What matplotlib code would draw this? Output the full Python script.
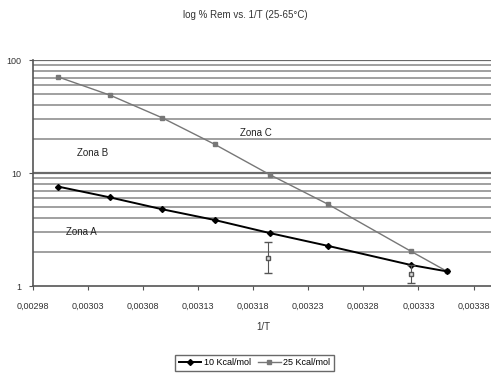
import matplotlib
matplotlib.use('Agg')
import matplotlib.pyplot as plt
from matplotlib.ticker import FixedLocator, NullFormatter
import numpy as np

plt.rcParams['font.family'] = ['Liberation Sans', 'DejaVu Sans']

# datos
inv_t = [0.003003, 0.003050, 0.003097, 0.003145, 0.003195, 0.003248, 0.003323, 0.003356]
rem_10 = [7.6, 6.1, 4.8, 3.85, 2.95, 2.27, 1.54, 1.35]
rem_25 = [71, 49, 31, 18, 9.7, 5.3, 2.04, 1.35]

# puntos experimentales con barras de error
err_x = [0.003193, 0.003323]
err_y = [1.79, 1.28]
err_lo = [0.49, 0.22]
err_hi = [0.68, 0.25]

xticks = [0.00298, 0.00303, 0.00308, 0.00313, 0.00318, 0.00323, 0.00328, 0.00333, 0.00338]
zonas = [('Zona A', 0.003010, 2.85), ('Zona B', 0.003020, 14.2), ('Zona C', 0.003168, 21.5)]

fig = plt.figure(figsize=(4.91, 3.76), dpi=100)
ax = fig.add_axes([0.067, 0.239, 0.94, 0.601])
ax.set_yscale('log')
ax.set_ylim(1, 100)
ax.set_xlim(0.00298, 0.003399)

# lineas de division horizontales
for v in list(range(2, 10)) + list(range(20, 100, 10)):
    ax.axhline(v, color='#a0a0a0', lw=1.4, zorder=1)
for v in [10, 100]:
    ax.axhline(v, color='#6a6a6a', lw=1.6, zorder=1)

ax.plot(inv_t, rem_10, color='black', lw=1.4, marker='D', ms=3, label='10 Kcal/mol', zorder=4)
ax.plot(inv_t, rem_25, color='#777777', lw=1.0, marker='s', ms=2.5, label='25 Kcal/mol', zorder=3)
ax.errorbar(err_x, err_y, yerr=[err_lo, err_hi], fmt='s', color='#555555', mfc='#dddddd',
            ms=3, capsize=3, lw=0.8, zorder=5)

for txt, x, y in zonas:
    ax.text(x, y, txt, fontsize=7, color='#222222')

ax.xaxis.set_major_locator(FixedLocator(xticks))
ax.set_xticklabels([('%.5f' % t).replace('.', ',') for t in xticks], fontsize=6.5, color='#333333')
ax.set_yticks([1, 10, 100])
ax.set_yticklabels(['1', '10', '100'], fontsize=6.5, color='#333333')
ax.yaxis.set_minor_formatter(NullFormatter())
ax.tick_params(axis='y', which='minor', length=0)
ax.tick_params(axis='x', which='major', length=3, width=0.8, color='#555555', pad=8)
ax.tick_params(axis='y', which='major', length=3, width=0.8, color='#555555', pad=5)
for s in ['top', 'right']:
    ax.spines[s].set_visible(False)
for s in ['left', 'bottom']:
    ax.spines[s].set_color('#555555')
    ax.spines[s].set_linewidth(1.2)

ax.set_xlabel('1/T', fontsize=7, color='#333333', labelpad=8)
fig.text(0.5, 0.952, 'log % Rem vs. 1/T (25-65°C)', ha='center', fontsize=7, color='#333333')

leg = ax.legend(loc='center', bbox_to_anchor=(0.48, -0.34), ncol=2, fontsize=6.5,
                frameon=True, fancybox=False, handlelength=2.5, columnspacing=0.8,
                handletextpad=0.3, borderpad=0.4)
leg.get_frame().set_edgecolor('#444444')
leg.get_frame().set_linewidth(1.0)

fig.savefig('out.png', dpi=100)
